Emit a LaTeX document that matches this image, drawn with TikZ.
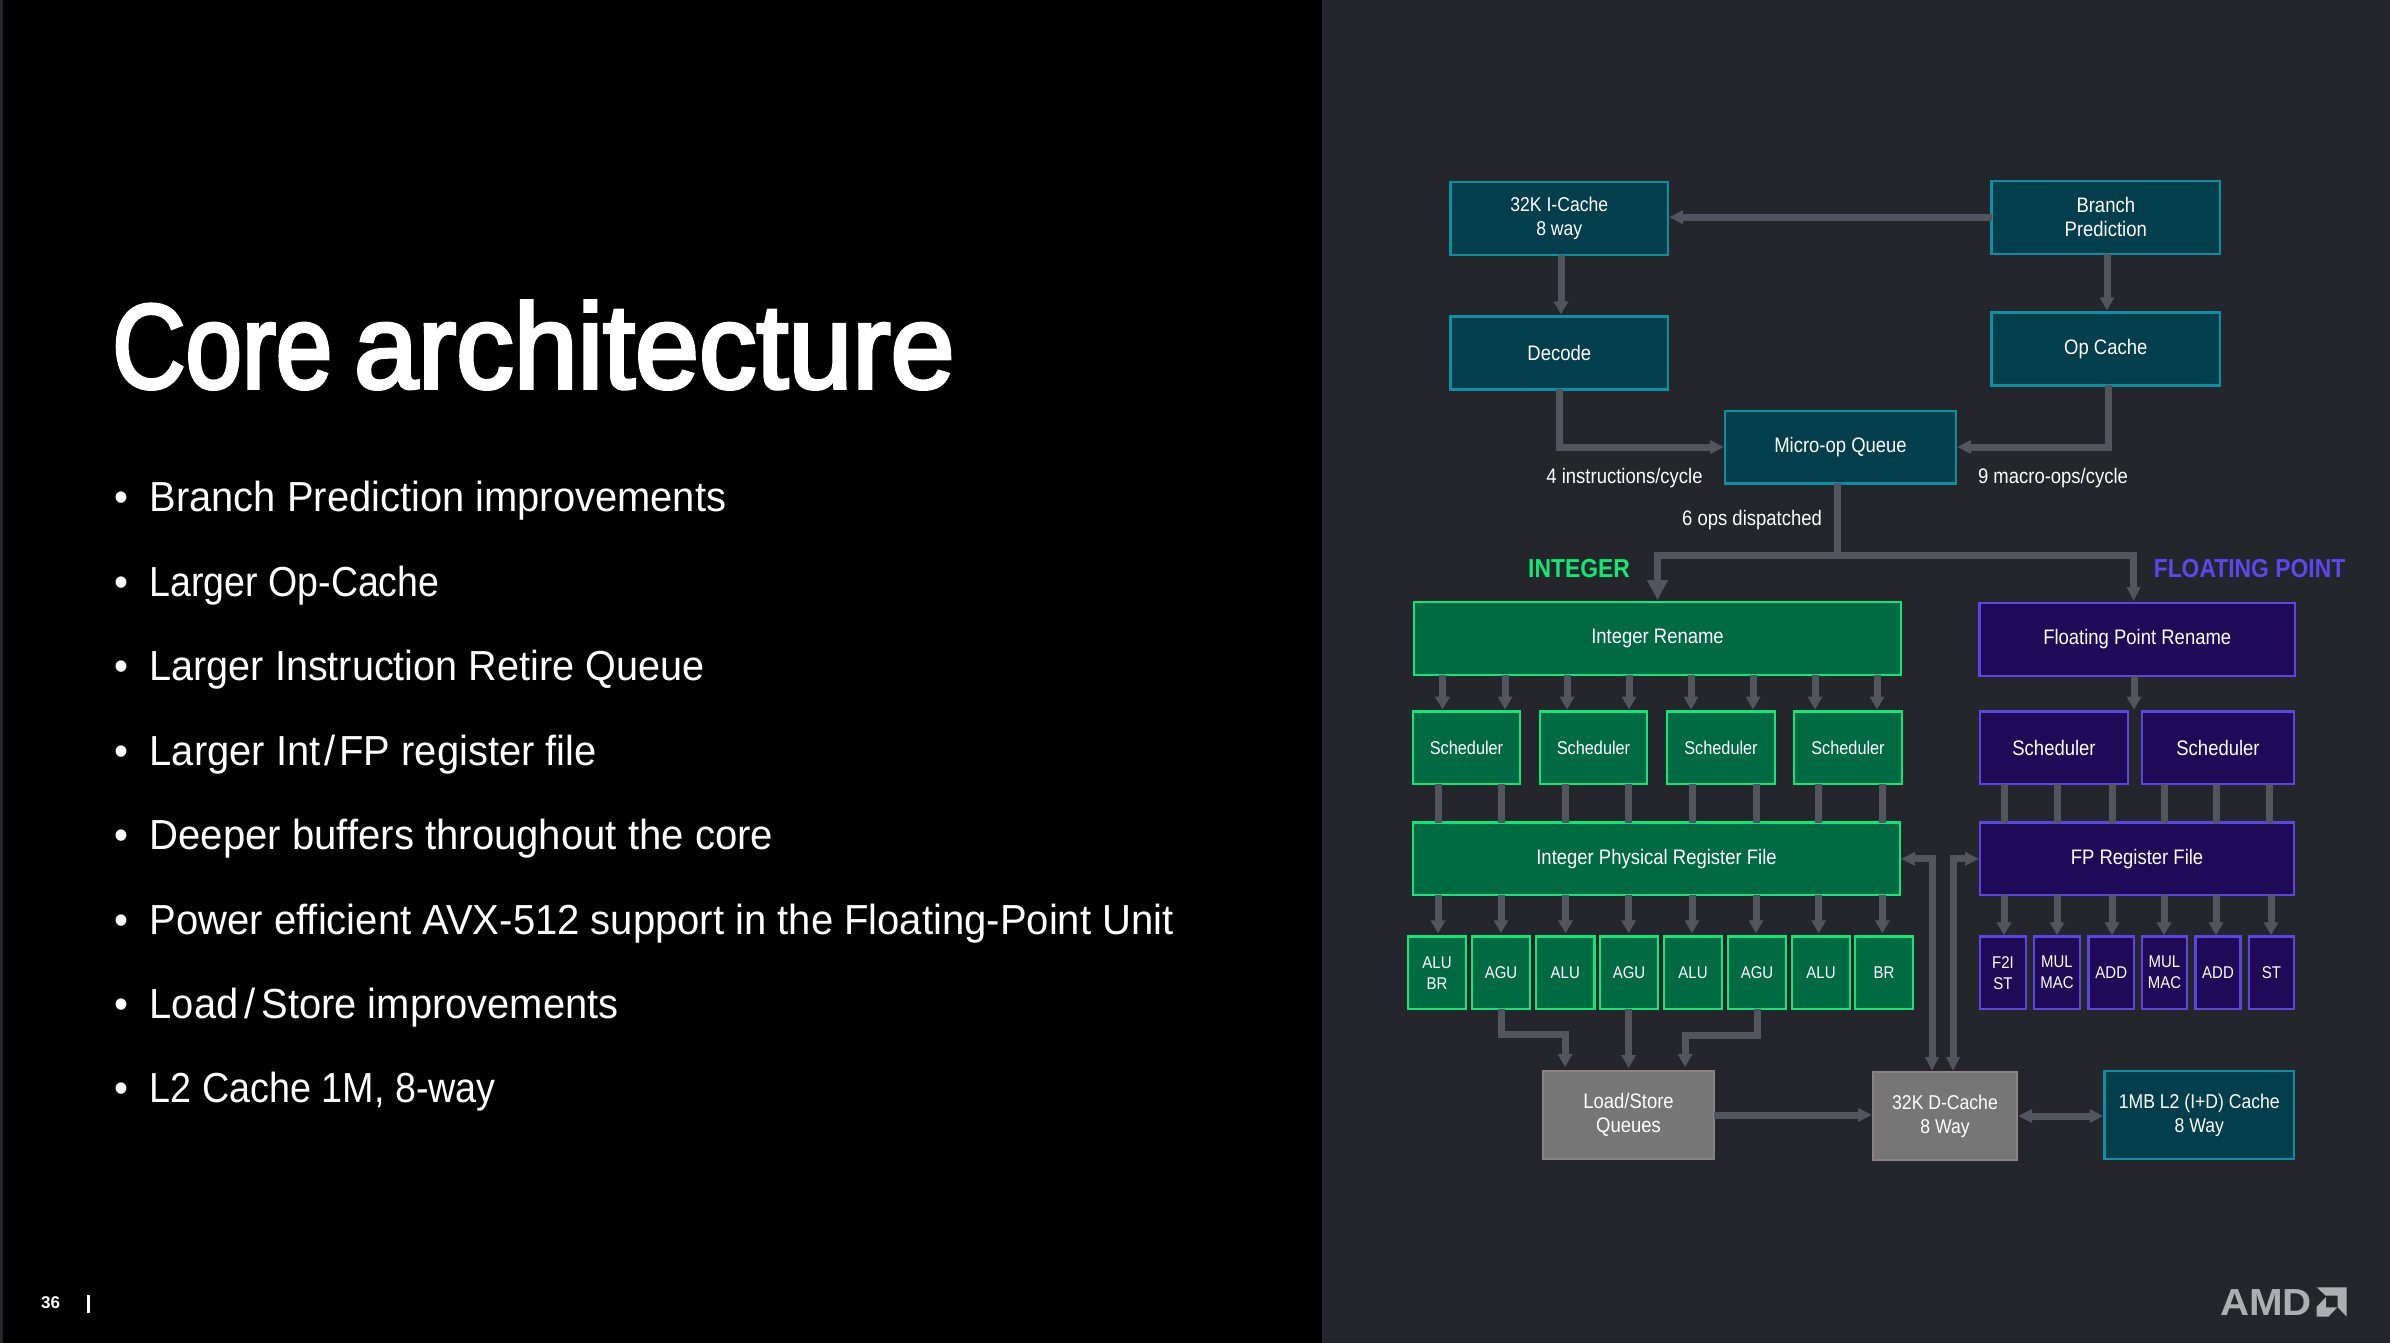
\documentclass[tikz,border=0pt]{standalone}
\usepackage{fontspec}
\usepackage{graphicx}
\setmainfont{Liberation Sans}
\newfontfamily\dgfont[FakeStretch=0.88]{Liberation Sans}
\newfontfamily\blfont[FakeStretch=0.95]{Liberation Sans}
\newfontfamily\tifont[FakeStretch=0.93,FakeBold=3,WordSpace=0.7]{Liberation Sans}
\newfontfamily\lgfont[FakeStretch=1.07]{Liberation Sans}
\usetikzlibrary{arrows.meta,calc}
\definecolor{panel}{HTML}{25262B}
\definecolor{arrowgrey}{HTML}{53555E}
\definecolor{tealfill}{HTML}{023E4C}
\definecolor{tealline}{HTML}{0B8FA3}
\definecolor{greenfill}{HTML}{006B43}
\definecolor{greenline}{HTML}{0FE678}
\definecolor{purplefill}{HTML}{1E0A57}
\definecolor{purpleline}{HTML}{5A46E0}
\definecolor{greyfill}{HTML}{767676}
\definecolor{greyline}{HTML}{8D8385}
\definecolor{logogrey}{HTML}{ADAEB2}
\definecolor{intlabel}{HTML}{10EA72}
\definecolor{fplabel}{HTML}{5B48F0}
\tikzset{
  blk/.style={inner sep=0pt,outer sep=0pt,line width=2.4pt,align=center,text=white,
    font=\dgfont\fontsize{21}{24.3}\selectfont},
  teal/.style={blk,draw=tealline,fill=tealfill},
  grn/.style={blk,draw=greenline,fill=greenfill},
  pur/.style={blk,draw=purpleline,fill=purplefill},
  gry/.style={blk,draw=greyline,fill=greyfill},
  small/.style={font=\dgfont\fontsize{18.5}{21}\selectfont},
  exec/.style={font=\dgfont\fontsize{17}{21}\selectfont},
  fps/.style={font=\dgfont\fontsize{21}{24}\selectfont},
  mid/.style={font=\dgfont\fontsize{20}{24.3}\selectfont},
  lbl/.style={inner sep=0pt,text=white,font=\dgfont\fontsize{21}{24}\selectfont},
  conn/.style={draw=arrowgrey,line width=7pt,line join=miter},
  wire/.style={conn},
  arr/.style={conn,-{Triangle[width=14pt,length=13pt]},shorten >=2pt},
  arrbig/.style={conn,-{Triangle[width=20pt,length=20pt]},shorten >=2pt},
  arrflat/.style={conn,-{Triangle[width=13pt,length=14pt]},shorten >=1pt},
  arrboth/.style={conn,{Triangle[width=13pt,length=14pt]}-{Triangle[width=13pt,length=14pt]},shorten >=1pt,shorten <=1pt},
  bullet/.style={inner sep=0pt,anchor=base,text=white,font=\blfont\fontsize{42}{42}\selectfont},
  bul/.style={inner sep=0pt,anchor=base west,text=white,font=\blfont\fontsize{42}{42}\selectfont},
}
\newcommand{\bx}[7]{\node[#2,minimum width={(#5-#3)*1pt},minimum height={(#6-#4)*1pt}] (#1) at ({(#3+#5)/2},{(#4+#6)/2}) {#7};}
\begin{document}
\begin{tikzpicture}[x=1pt,y=-1pt]
\useasboundingbox (0,0) rectangle (2390,1342);
\fill[black] (-4,-4) rectangle (1322,1346);
\fill[panel] (1322,-4) rectangle (2394,1346);
\fill[panel] (-4,-4) rectangle (3,1346);

% left column
\node[inner sep=0pt,anchor=base west,text=white,font=\tifont\fontsize{120}{120}\selectfont] (title) at (112,388) {\scalebox{0.91}[1]{Core} \scalebox{1.03}[1]{architecture}};
\foreach \n/\yy/\sx/\tx in {1/511.7/1/{Branch Prediction improvements},2/596/0.94/{Larger Op-Cache},3/680.5/0.992/{Larger Instruction Retire Queue},4/765/1/{Larger Int\kern4pt/\kern4pt FP register file},5/849/1.005/{Deeper buffers throughout the core},6/934/1.003/{Power efficient AVX-512 support in the Floating-Point Unit},7/1018/1/{Load\kern6pt/\kern6pt Store improvements},8/1102.5/0.946/{L2 Cache 1M, 8-way}}{
  \node[bullet] (d\n) at (121.6,\yy) {•};
  \node[bul] (b\n) at (149.5,\yy) {\scalebox{\sx}[1]{\tx}};
}
\node[inner sep=0pt,anchor=base west,text=white,font=\bfseries\fontsize{17}{17}\selectfont] (pg) at (41,1308) {36};
\fill[white] (87,1295) rectangle (90,1313);

% boxes
\bx{ic}{teal,mid}{1450.5}{181.7}{1668}{255}{32K I-Cache\\8 way}
\bx{bp}{teal}{1991.5}{180.7}{2220}{253.7}{Branch\\Prediction}
\bx{dc}{teal}{1450.5}{316.3}{1668}{389.3}{Decode}
\bx{op}{teal}{1991.5}{312.3}{2220}{385.3}{Op Cache}
\bx{mq}{teal}{1725}{410.7}{1956}{483.3}{Micro-op Queue}
\bx{ir}{grn}{1414}{602}{1901}{675}{Integer Rename}
\bx{fr}{pur}{1979.5}{603}{2295}{676}{Floating Point Rename}
\bx{s1}{grn,small}{1413}{711.6}{1520}{784}{Scheduler}
\bx{s2}{grn,small}{1540}{711.6}{1647}{784}{Scheduler}
\bx{s3}{grn,small}{1667}{711.6}{1775}{784}{Scheduler}
\bx{s4}{grn,small}{1794}{711.6}{1902}{784}{Scheduler}
\bx{fs1}{pur,fps}{1980}{711.6}{2128}{784}{Scheduler}
\bx{fs2}{pur,fps}{2142}{711.6}{2294}{784}{Scheduler}
\bx{ip}{grn}{1413}{822.6}{1900}{895}{Integer Physical Register File}
\bx{fp}{pur}{1980}{822.6}{2294}{895}{FP Register File}
\bx{e1}{grn,exec}{1408}{936.3}{1466}{1009}{ALU\\BR}
\bx{e2}{grn,exec}{1472}{936.3}{1530}{1009}{AGU}
\bx{e3}{grn,exec}{1536}{936.3}{1594.5}{1009}{ALU}
\bx{e4}{grn,exec}{1600}{936.3}{1658}{1009}{AGU}
\bx{e5}{grn,exec}{1664}{936.3}{1722}{1009}{ALU}
\bx{e6}{grn,exec}{1728}{936.3}{1786}{1009}{AGU}
\bx{e7}{grn,exec}{1792}{936.3}{1850}{1009}{ALU}
\bx{e8}{grn,exec}{1855}{936.3}{1913}{1009}{BR}
\bx{f1}{pur,exec}{1980}{936.3}{2026}{1009}{F2I\\ST}
\bx{f2}{pur,exec}{2034}{936.3}{2080}{1009}{MUL\\MAC}
\bx{f3}{pur,exec}{2088.5}{936.3}{2134}{1009}{ADD}
\bx{f4}{pur,exec}{2142}{936.3}{2187}{1009}{MUL\\MAC}
\bx{f5}{pur,exec}{2195.5}{936.3}{2240.5}{1009}{ADD}
\bx{f6}{pur,exec}{2249}{936.3}{2294}{1009}{ST}
\bx{ls}{gry}{1543}{1071}{1714}{1159}{Load/Store\\Queues}
\bx{dd}{gry,mid}{1873}{1072}{2017}{1160}{32K D-Cache\\8 Way}
\bx{l2}{teal,mid}{2104.6}{1071}{2294}{1159}{1MB L2 (I+D) Cache\\8 Way}

% labels
\node[lbl] (t1) at (1624.5,478) {4 instructions/cycle};
\node[lbl] (t2) at (2053,478) {9 macro-ops/cycle};
\node[lbl] (t3) at (1752,520) {6 ops dispatched};
\node[inner sep=0pt,text=intlabel,font=\dgfont\bfseries\fontsize{26}{26}\selectfont] (intl) at (1579,568.5) {INTEGER};
\node[inner sep=0pt,text=fplabel,font=\dgfont\bfseries\fontsize{26}{26}\selectfont] (fpl) at (2249.5,568.5) {FLOATING POINT};

% upper connectors
\draw[arrflat] (bp.west) -- (bp.west -| ic.east);
\draw[arr] (1561,0 |- ic.south) -- (1561,0 |- dc.north);
\draw[arr] (2107,0 |- bp.south) -- (2107,0 |- op.north);
\draw[arrflat] (dc.south) |- (mq.west);
\draw[arrflat] (2108,0 |- op.south) |- (mq.east);
\coordinate (split) at (1837,555);
\draw[wire] (1837,0 |- mq.south) -- (split);
\draw[arrbig] (split) -| (ir.north);
\draw[arrflat,shorten >=2pt] (split) -| (2133.6,0 |- fr.north);

% integer
\foreach \x/\t in {1442.5/s1,1505/s1,1567/s2,1629/s2,1691/s3,1753/s3,1815/s4,1877/s4}
  \draw[arr] (\x,0 |- ir.south) -- (\x,0 |- \t.north);
\foreach \x/\t in {1438/s1,1501/s1,1565.5/s2,1628.6/s2,1692/s3,1756/s3,1818.7/s4,1882.4/s4}
  \draw[wire] (\x,0 |- \t.south) -- (\x,0 |- ip.north);
\foreach \x/\t in {1438/e1,1501/e2,1565.5/e3,1628.6/e4,1692/e5,1756/e6,1818.7/e7,1882.4/e8}
  \draw[arr,shorten >=3pt] (\x,0 |- ip.south) -- (\x,0 |- \t.north);

% floating point
\draw[arr] (2134,0 |- fr.south) -- (2134,0 |- fs1.north);
\foreach \x/\t in {2004/fs1,2057/fs1,2112/fs1,2164/fs2,2216/fs2,2269.5/fs2}
  \draw[wire] (\x,0 |- \t.south) -- (\x,0 |- fp.north);
\foreach \x/\t in {2004/f1,2057/f2,2112/f3,2164/f4,2216/f5,2271/f6}
  \draw[arr,shorten >=1pt] (\x,0 |- fp.south) -- (\x,0 |- \t.north);

% load/store
\draw[arr,shorten >=4pt] (1501,0 |- e2.south) -- (1501,1034) -- (1565,1034) -- (1565,0 |- ls.north);
\draw[arr,shorten >=3pt] (1628.6,0 |- e4.south) -- (1628.6,0 |- ls.north);
\draw[arr,shorten >=4pt] (1757,0 |- e6.south) -- (1757,1035) -- (1685,1035) -- (1685,0 |- ls.north);
\draw[arrflat] (ls.east) -- (ls.east -| dd.west);
\draw[arrboth] (dd.east) -- (dd.east -| l2.west);
\draw[arrboth] (1932,0 |- dd.north) |- (ip.east);
\draw[arrboth] (1953,0 |- dd.north) |- (fp.west);

% logo
\node[inner sep=0pt,anchor=base west,text=logogrey,font=\lgfont\bfseries\fontsize{37.7}{38}\selectfont] (amd) at (2220,1315) {AMD};
\fill[logogrey] (2316.7,1287.3) -- (2346.7,1287.3) -- (2346.7,1316.7) -- (2337.7,1307.3) -- (2337.7,1295.7) -- (2325.7,1295.7) -- cycle;
\fill[logogrey] (2316.7,1306.7) -- (2326,1297) -- (2326,1307.3) -- (2337.3,1307.3) -- (2328.3,1316.7) -- (2316.7,1316.7) -- cycle;
\end{tikzpicture}
\end{document}
